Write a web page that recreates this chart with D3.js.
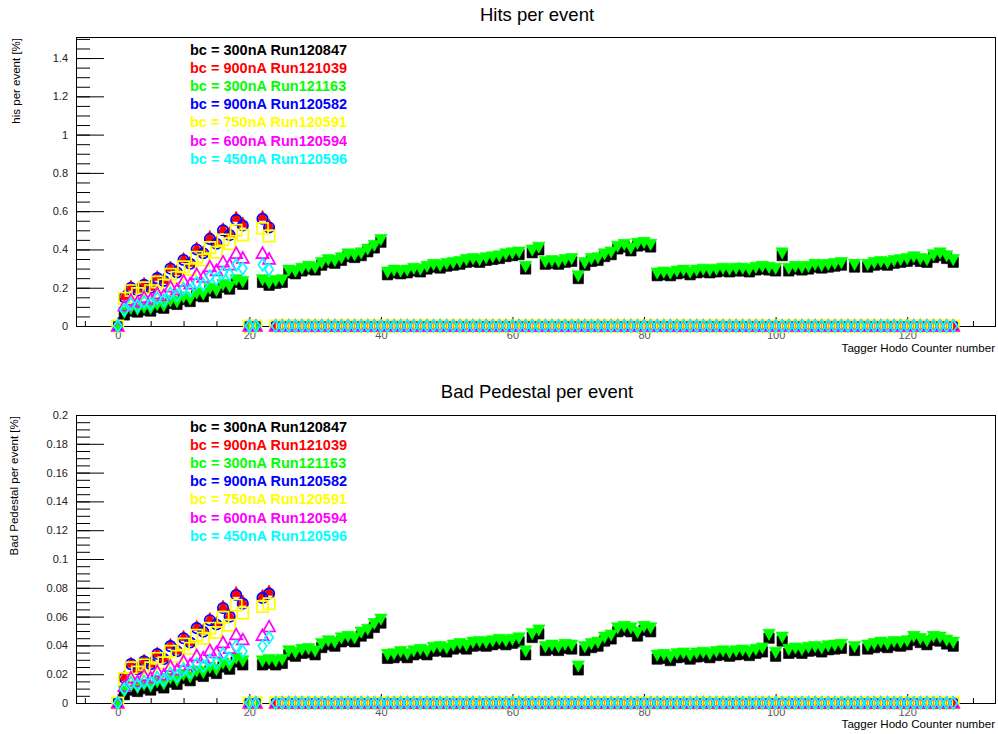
<!DOCTYPE html>
<html>
<head>
<meta charset="utf-8">
<script src="https://cdn.jsdelivr.net/npm/d3@7"></script>
<style>
  body { margin: 0; background: #fff; }
  svg { display: block; }
  text { font-family: "Liberation Sans", Arial, Helvetica, sans-serif; }
</style>
</head>
<body>
<svg id="chart" width="998" height="734"></svg>
<script>
// Tagger hodoscope counters 0..127
const channels = d3.range(128);

const runLabels = [
  "bc = 300nA Run120847",
  "bc = 900nA Run121039",
  "bc = 300nA Run121163",
  "bc = 900nA Run120582",
  "bc = 750nA Run120591",
  "bc = 600nA Run120594",
  "bc = 450nA Run120596"
];
const runColors = ["#000000", "#ff0000", "#00ff00", "#0000ff", "#ffff00", "#ff00ff", "#00ffff"];
const runMarkers = ["squareFull", "triangleUpFull", "triangleDownFull", "circleOpen", "squareOpen", "triangleUpOpen", "diamondOpen"];

const xTicks = [0, 20, 40, 60, 80, 100, 120];
const hitsTicks = [0, 0.2, 0.4, 0.6, 0.8, 1, 1.2, 1.4];
const pedTicks = [0, 0.02, 0.04, 0.06, 0.08, 0.1, 0.12, 0.14, 0.16, 0.18, 0.2];

// counters 24..127 read zero for the runs that only cover the first counters
const offTail = [
  0,0,0,0,0,0,0,0,0,0,0,0,0,
  0,0,0,0,0,0,0,0,0,0,0,0,0,
  0,0,0,0,0,0,0,0,0,0,0,0,0,
  0,0,0,0,0,0,0,0,0,0,0,0,0,
  0,0,0,0,0,0,0,0,0,0,0,0,0,
  0,0,0,0,0,0,0,0,0,0,0,0,0,
  0,0,0,0,0,0,0,0,0,0,0,0,0,
  0,0,0,0,0,0,0,0,0,0,0,0,0
];

// ---- hits per event [%] ----
const hits120847 = [
  0, 0.058, 0.078, 0.073, 0.083, 0.078, 0.098, 0.093, 0.118, 0.113,
  0.138, 0.128, 0.158, 0.153, 0.183, 0.173, 0.203, 0.193, 0.228, 0.218,
  0, 0, 0.228, 0.213, 0.223, 0.228, 0.278, 0.273, 0.288, 0.298,
  0.293, 0.318, 0.333, 0.328, 0.343, 0.363, 0.358, 0.368, 0.388, 0.408,
  0.438, 0.268, 0.278, 0.273, 0.278, 0.288, 0.283, 0.298, 0.308, 0.303,
  0.313, 0.318, 0.323, 0.333, 0.338, 0.333, 0.343, 0.348, 0.353, 0.363,
  0.368, 0.373, 0.298, 0.383, 0.398, 0.323, 0.328, 0.323, 0.333, 0.338,
  0.248, 0.318, 0.338, 0.343, 0.363, 0.373, 0.403, 0.413, 0.393, 0.418,
  0.423, 0.413, 0.263, 0.268, 0.263, 0.273, 0.278, 0.268, 0.278, 0.283,
  0.278, 0.283, 0.288, 0.283, 0.288, 0.288, 0.283, 0.293, 0.298, 0.293,
  0.288, 0.368, 0.288, 0.298, 0.293, 0.298, 0.308, 0.303, 0.308, 0.313,
  0.318, 0, 0.308, 0, 0.308, 0.318, 0.323, 0.318, 0.328, 0.333,
  0.338, 0.348, 0.338, 0.333, 0.358, 0.368, 0.353, 0.333
];
const hits121039 = [
  0, 0.16, 0.21, 0.195, 0.225, 0.21, 0.26, 0.245, 0.31, 0.29,
  0.355, 0.335, 0.41, 0.39, 0.47, 0.44, 0.51, 0.49, 0.57, 0.54,
  0, 0, 0.575, 0.53, ...offTail
];
const hits121163 = [
  0, 0.07, 0.09, 0.085, 0.095, 0.09, 0.11, 0.105, 0.13, 0.125,
  0.15, 0.14, 0.17, 0.165, 0.195, 0.185, 0.215, 0.205, 0.24, 0.23,
  0, 0, 0.24, 0.225, 0.235, 0.24, 0.29, 0.285, 0.30, 0.31,
  0.305, 0.33, 0.345, 0.34, 0.355, 0.375, 0.37, 0.38, 0.40, 0.42,
  0.45, 0.28, 0.29, 0.285, 0.29, 0.30, 0.295, 0.31, 0.32, 0.315,
  0.325, 0.33, 0.335, 0.345, 0.35, 0.345, 0.355, 0.36, 0.365, 0.375,
  0.38, 0.385, 0.31, 0.395, 0.41, 0.335, 0.34, 0.335, 0.345, 0.35,
  0.26, 0.33, 0.35, 0.355, 0.375, 0.385, 0.415, 0.425, 0.405, 0.43,
  0.435, 0.425, 0.275, 0.28, 0.275, 0.285, 0.29, 0.28, 0.29, 0.295,
  0.29, 0.295, 0.30, 0.295, 0.30, 0.30, 0.295, 0.305, 0.31, 0.305,
  0.30, 0.38, 0.30, 0.31, 0.305, 0.31, 0.32, 0.315, 0.32, 0.325,
  0.33, 0, 0.32, 0, 0.32, 0.33, 0.335, 0.33, 0.34, 0.345,
  0.35, 0.36, 0.35, 0.345, 0.37, 0.38, 0.365, 0.345
];
const hits120582 = [
  0, 0.15, 0.20, 0.185, 0.215, 0.20, 0.25, 0.235, 0.30, 0.28,
  0.345, 0.325, 0.40, 0.38, 0.455, 0.43, 0.50, 0.475, 0.555, 0.525,
  0, 0, 0.56, 0.515, ...offTail
];
const hits120591 = [
  0, 0.145, 0.185, 0.17, 0.20, 0.185, 0.23, 0.215, 0.27, 0.255,
  0.31, 0.295, 0.36, 0.345, 0.41, 0.385, 0.45, 0.43, 0.50, 0.475,
  0, 0, 0.51, 0.47, ...offTail
];
const hits120594 = [
  0, 0.105, 0.135, 0.125, 0.15, 0.14, 0.17, 0.16, 0.205, 0.19,
  0.235, 0.22, 0.27, 0.255, 0.31, 0.29, 0.335, 0.32, 0.38, 0.355,
  0, 0, 0.38, 0.35, ...offTail
];
const hits120596 = [
  0, 0.085, 0.115, 0.105, 0.125, 0.115, 0.145, 0.135, 0.17, 0.16,
  0.195, 0.185, 0.225, 0.215, 0.26, 0.245, 0.28, 0.27, 0.32, 0.30,
  0, 0, 0.32, 0.295, ...offTail
];

// ---- bad pedestal per event [%] ----
const ped120847 = [
  0, 0.0058, 0.009, 0.008, 0.01, 0.009, 0.012, 0.0105, 0.0145, 0.013,
  0.017, 0.0155, 0.0195, 0.0185, 0.022, 0.0205, 0.025, 0.0235, 0.0285, 0.0265,
  0, 0, 0.0265, 0.0275, 0.0265, 0.0275, 0.0335, 0.0325, 0.0345, 0.035,
  0.0335, 0.0385, 0.0405, 0.0395, 0.0425, 0.0435, 0.0425, 0.0465, 0.0485, 0.0525,
  0.0555, 0.031, 0.0315, 0.033, 0.0315, 0.0335, 0.0345, 0.0335, 0.036, 0.0365,
  0.0355, 0.0375, 0.0385, 0.0375, 0.0395, 0.04, 0.0395, 0.0405, 0.0415, 0.0405,
  0.0415, 0.0425, 0.0335, 0.0455, 0.048, 0.0365, 0.0375, 0.0365, 0.038, 0.0375,
  0.023, 0.0365, 0.0385, 0.0395, 0.043, 0.0445, 0.0495, 0.0505, 0.0495, 0.0465,
  0.0505, 0.0495, 0.0305, 0.031, 0.0295, 0.0315, 0.032, 0.0305, 0.032, 0.0325,
  0.0315, 0.033, 0.0335, 0.0325, 0.0335, 0.034, 0.033, 0.0345, 0.0355, 0.045,
  0.0325, 0.043, 0.0345, 0.0355, 0.0345, 0.036, 0.0365, 0.0355, 0.037, 0.0375,
  0.038, 0, 0.0365, 0, 0.0375, 0.0385, 0.0395, 0.0385, 0.04, 0.0395,
  0.0405, 0.0435, 0.042, 0.0405, 0.0435, 0.043, 0.041, 0.0395
];
const ped121039 = [
  0, 0.0185, 0.028, 0.0245, 0.030, 0.028, 0.035, 0.0315, 0.041, 0.037,
  0.0465, 0.043, 0.0535, 0.051, 0.059, 0.056, 0.0675, 0.0615, 0.077, 0.071,
  0, 0, 0.075, 0.078, ...offTail
];
const ped121163 = [
  0, 0.008, 0.0115, 0.0105, 0.0125, 0.0115, 0.0145, 0.013, 0.017, 0.0155,
  0.0195, 0.018, 0.022, 0.021, 0.0245, 0.023, 0.0275, 0.026, 0.031, 0.029,
  0, 0, 0.029, 0.03, 0.029, 0.03, 0.036, 0.035, 0.037, 0.0375,
  0.036, 0.041, 0.043, 0.042, 0.045, 0.046, 0.045, 0.049, 0.051, 0.055,
  0.058, 0.0335, 0.034, 0.0355, 0.034, 0.036, 0.037, 0.036, 0.0385, 0.039,
  0.038, 0.04, 0.041, 0.04, 0.042, 0.0425, 0.042, 0.043, 0.044, 0.043,
  0.044, 0.045, 0.036, 0.048, 0.0505, 0.039, 0.04, 0.039, 0.0405, 0.04,
  0.0255, 0.039, 0.041, 0.042, 0.0455, 0.047, 0.052, 0.053, 0.052, 0.049,
  0.053, 0.052, 0.033, 0.0335, 0.032, 0.034, 0.0345, 0.033, 0.0345, 0.035,
  0.034, 0.0355, 0.036, 0.035, 0.036, 0.0365, 0.0355, 0.037, 0.038, 0.0475,
  0.035, 0.0455, 0.037, 0.038, 0.037, 0.0385, 0.039, 0.038, 0.0395, 0.04,
  0.0405, 0, 0.039, 0, 0.04, 0.041, 0.042, 0.041, 0.0425, 0.042,
  0.043, 0.046, 0.0445, 0.043, 0.046, 0.0455, 0.0435, 0.042
];
const ped120582 = [
  0, 0.0175, 0.027, 0.0235, 0.029, 0.027, 0.034, 0.0305, 0.0395, 0.036,
  0.045, 0.042, 0.052, 0.0495, 0.0575, 0.0545, 0.066, 0.06, 0.075, 0.069,
  0, 0, 0.073, 0.076, ...offTail
];
const ped120591 = [
  0, 0.017, 0.0245, 0.0215, 0.0265, 0.0245, 0.031, 0.028, 0.036, 0.0325,
  0.041, 0.038, 0.047, 0.045, 0.052, 0.049, 0.0595, 0.054, 0.068, 0.0625,
  0, 0, 0.067, 0.069, ...offTail
];
const ped120594 = [
  0, 0.0115, 0.0175, 0.015, 0.019, 0.0175, 0.022, 0.0195, 0.0255, 0.023,
  0.029, 0.0265, 0.033, 0.0315, 0.0365, 0.035, 0.042, 0.038, 0.0475, 0.044,
  0, 0, 0.047, 0.053, ...offTail
];
const ped120596 = [
  0, 0.0095, 0.014, 0.0125, 0.015, 0.014, 0.0175, 0.016, 0.0205, 0.0185,
  0.0235, 0.0215, 0.027, 0.0255, 0.0295, 0.028, 0.034, 0.031, 0.0395, 0.036,
  0, 0, 0.0395, 0.0455, ...offTail
];

const hitsSeries = [hits120847, hits121039, hits121163, hits120582, hits120591, hits120594, hits120596];
const pedSeries = [ped120847, ped121039, ped121163, ped120582, ped120591, ped120594, ped120596];

// ---- layout ----
const svg = d3.select("#chart");
svg.append("rect").attr("width", 998).attr("height", 734).attr("fill", "#fff");

const frameLeft = 76, frameRight = 995;
const x = d3.scaleLinear().domain([-6.35, 133.35]).range([frameLeft, frameRight]);

const panels = [
  {
    title: "Hits per event", titleY: 21,
    yTitle: "his per event [%]", yTitleX: 20,
    top: 37, bottom: 326, yMax: 1.51,
    ticks: hitsTicks, minorStep: 0.05, minorMax: 1.5,
    series: hitsSeries, legendY: 55, xTitleY: 352
  },
  {
    title: "Bad Pedestal per event", titleY: 398,
    yTitle: "Bad Pedestal per event [%]", yTitleX: 18,
    top: 415, bottom: 703, yMax: 0.2,
    ticks: pedTicks, minorStep: 0.005, minorMax: 0.2,
    series: pedSeries, legendY: 432, xTitleY: 728
  }
];

// ROOT-style marker outlines, centred on the point
function markerShape(kind) {
  switch (kind) {
    case "squareFull":       return { d: "M-5.2,-5.2H5.2V5.2H-5.2Z", fill: true };
    case "triangleUpFull":   return { d: "M0,-5.8L5.4,4.6H-5.4Z", fill: true };
    case "triangleDownFull": return { d: "M-6.2,-5.4H6.2L0,5.8Z", fill: true };
    case "circleOpen":       return { d: d3.arc()({ innerRadius: 0, outerRadius: 5.2, startAngle: 0, endAngle: 2 * Math.PI }), fill: false };
    case "squareOpen":       return { d: "M-5.6,-5.6H5.6V5.6H-5.6Z", fill: false };
    case "triangleUpOpen":   return { d: "M0,-6L6,4.8H-6Z", fill: false };
    case "diamondOpen":      return { d: "M0,-6L4.2,0L0,6L-4.2,0Z", fill: false };
  }
}

panels.forEach(p => {
  const y = d3.scaleLinear().domain([0, p.yMax]).range([p.bottom, p.top]);
  const g = svg.append("g");

  // titles
  g.append("text").attr("x", 537).attr("y", p.titleY)
    .attr("text-anchor", "middle").attr("font-size", 18.5).attr("fill", "#000")
    .text(p.title);
  g.append("text")
    .attr("transform", `translate(${p.yTitleX},${p.top + 1}) rotate(-90)`)
    .attr("text-anchor", "end").attr("font-size", 11.5).attr("fill", "#000")
    .text(p.yTitle);
  g.append("text").attr("x", frameRight).attr("y", p.xTitleY)
    .attr("text-anchor", "end").attr("font-size", 11.6).attr("fill", "#000")
    .text("Tagger Hodo Counter number");

  // y axis: long major ticks and short minor ticks pointing into the frame
  const minorY = d3.range(0, p.minorMax + p.minorStep / 2, p.minorStep);
  const yMinor = g.append("g").attr("transform", `translate(${frameLeft},0)`)
    .call(d3.axisLeft(y).tickValues(minorY).tickSizeInner(-14).tickSizeOuter(0).tickFormat(""));
  yMinor.select(".domain").remove();
  const yMajor = g.append("g").attr("transform", `translate(${frameLeft},0)`)
    .call(d3.axisLeft(y).tickValues(p.ticks).tickSizeInner(-28).tickSizeOuter(0).tickPadding(8).tickFormat(d3.format("~g")));
  yMajor.select(".domain").remove();
  yMajor.selectAll("text").attr("font-size", 11).attr("fill", "#222").attr("font-family", "Liberation Sans, Arial, sans-serif");
  g.selectAll(".tick line").attr("stroke", "#000").attr("stroke-width", 1);

  // x axis: short ticks pointing up from the bottom edge
  const minorX = d3.range(-5, 131, 5).filter(v => v % 20 !== 0);
  const xMinor = g.append("g").attr("transform", `translate(0,${p.bottom})`)
    .call(d3.axisBottom(x).tickValues(minorX).tickSizeInner(-5).tickSizeOuter(0).tickFormat(""));
  xMinor.select(".domain").remove();
  const xMajor = g.append("g").attr("transform", `translate(0,${p.bottom})`)
    .call(d3.axisBottom(x).tickValues(xTicks).tickSizeInner(-9).tickSizeOuter(0).tickPadding(5));
  xMajor.select(".domain").remove();
  xMajor.selectAll("text").attr("font-size", 11).attr("fill", "#555").attr("font-family", "Liberation Sans, Arial, sans-serif");
  g.selectAll(".tick line").attr("stroke", "#000").attr("stroke-width", 1);

  // frame
  g.append("rect")
    .attr("x", frameLeft + 0.5).attr("y", p.top + 0.5)
    .attr("width", frameRight - frameLeft).attr("height", p.bottom - p.top)
    .attr("fill", "none").attr("stroke", "#000").attr("stroke-width", 1);

  // markers, one layer per run in legend order
  p.series.forEach((vals, si) => {
    const shape = markerShape(runMarkers[si]);
    const layer = g.append("g");
    layer.selectAll("path")
      .data(channels.map(c => ({ c, v: vals[c] })))
      .join("path")
      .attr("transform", d => `translate(${x(d.c)},${y(d.v)})`)
      .attr("d", shape.d)
      .attr("fill", shape.fill ? runColors[si] : "none")
      .attr("stroke", runColors[si])
      .attr("stroke-width", shape.fill ? 0.6 : 1.7);
  });

  // legend
  runLabels.forEach((lab, i) => {
    g.append("text")
      .attr("x", 190).attr("y", p.legendY + i * 18.1)
      .attr("font-size", 14.5).attr("font-weight", "bold")
      .attr("fill", runColors[i])
      .text(lab);
  });
});
</script>
</body>
</html>
